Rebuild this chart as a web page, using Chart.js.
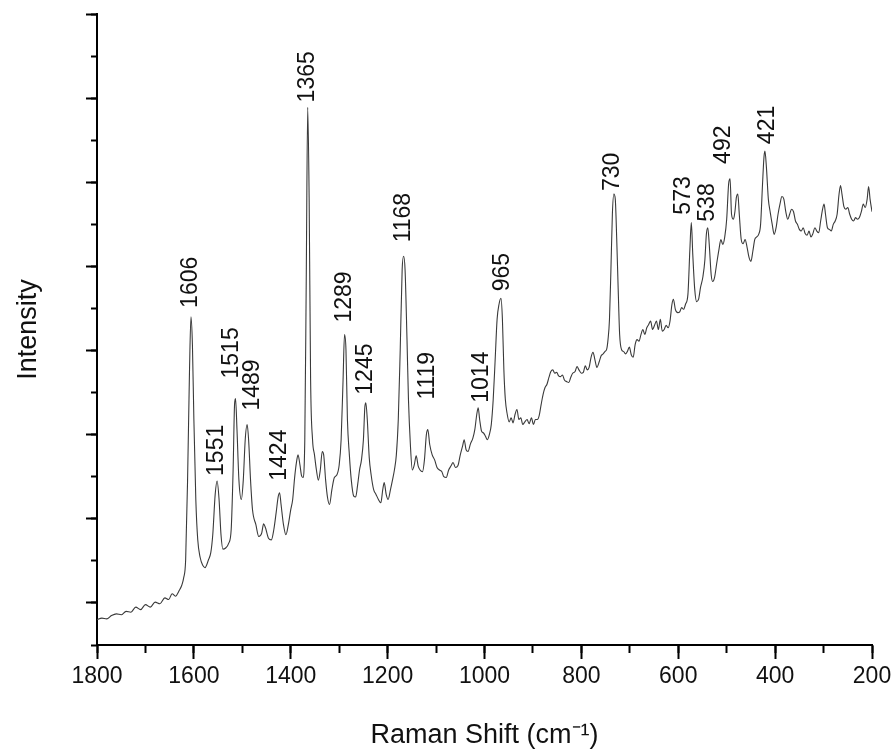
<!DOCTYPE html>
<html>
<head>
<meta charset="utf-8">
<script src="https://cdn.jsdelivr.net/npm/chart.js@4"></script>
<style>
  html, body { margin: 0; padding: 0; background: #fff; }
  #wrap { width: 896px; height: 754px; }
</style>
</head>
<body>
<div id="wrap"><canvas id="chart" width="896" height="754"></canvas></div>
<script>
// Raman shift (cm-1)
const shift = [
  1800, 1790, 1780, 1770, 1760, 1750, 1740, 1730, 1720, 1710, 1700, 1690, 1680, 1670, 1660, 1652, 1645, 1638, 1630, 1625,
  1621, 1617, 1613, 1609, 1606, 1603, 1600, 1596, 1592, 1587, 1582, 1577, 1570, 1565, 1561, 1556, 1552, 1548, 1544, 1540,
  1535, 1528, 1523, 1519, 1516, 1514, 1511, 1507, 1502, 1498, 1494, 1490, 1487, 1483, 1479, 1472, 1466, 1460, 1456, 1452,
  1446, 1440, 1435, 1430, 1426, 1423, 1420, 1415, 1410, 1405, 1400, 1396, 1392, 1388, 1385, 1381, 1378, 1375, 1371, 1368,
  1365, 1362, 1359, 1355, 1351, 1347, 1343, 1339, 1335, 1332, 1328, 1324, 1320, 1315, 1310, 1305, 1300, 1296, 1292, 1289,
  1286, 1283, 1279, 1275, 1270, 1266, 1262, 1258, 1254, 1250, 1247, 1245, 1242, 1238, 1234, 1229, 1224, 1219, 1214, 1210,
  1207, 1203, 1199, 1194, 1190, 1186, 1182, 1178, 1174, 1170, 1167, 1164, 1160, 1157, 1153, 1149, 1145, 1141, 1137, 1133,
  1128, 1124, 1120, 1117, 1113, 1108, 1103, 1098, 1093, 1088, 1084, 1079, 1074, 1069, 1065, 1060, 1055, 1050, 1045, 1042,
  1038, 1034, 1029, 1024, 1020, 1016, 1013, 1010, 1006, 1002, 998, 994, 990, 986, 982, 978, 974, 970, 966, 963,
  960, 957, 953, 949, 945, 941, 937, 933, 929, 925, 921, 917, 912, 908, 903, 899, 895, 891, 887, 883,
  879, 875, 871, 867, 863, 859, 855, 851, 847, 843, 839, 835, 830, 826, 822, 818, 813, 809, 805, 800,
  796, 792, 788, 784, 780, 776, 772, 768, 763, 759, 755, 751, 748, 745, 742, 739, 736, 733, 730, 727,
  724, 721, 717, 713, 709, 705, 701, 697, 693, 689, 685, 681, 677, 673, 669, 665, 661, 657, 653, 649,
  645, 641, 637, 633, 629, 625, 621, 617, 613, 610, 606, 601, 597, 593, 589, 585, 580, 576, 573, 570,
  566, 562, 558, 554, 549, 545, 542, 539, 536, 532, 529, 525, 521, 516, 512, 508, 504, 500, 496, 493,
  490, 486, 483, 480, 477, 474, 470, 466, 462, 458, 454, 450, 446, 442, 438, 434, 430, 426, 423, 421,
  418, 414, 410, 406, 402, 398, 394, 390, 386, 382, 378, 374, 370, 366, 362, 358, 354, 350, 346, 342,
  338, 334, 330, 326, 322, 318, 314, 310, 306, 302, 299, 296, 292, 288, 284, 280, 276, 272, 268, 265,
  262, 258, 254, 250, 246, 242, 238, 234, 230, 226, 222, 218, 214, 210, 207, 204, 200
];

// Intensity (arbitrary units, one unit per long y tick)
const intensity = [
  -0.20, -0.18, -0.19, -0.15, -0.13, -0.14, -0.10, -0.11, -0.05, -0.08, -0.02, -0.05, 0.01, -0.01, 0.06, 0.04, 0.11, 0.08, 0.15, 0.21,
  0.30, 0.51, 1.46, 2.77, 3.40, 3.07, 2.18, 1.23, 0.75, 0.54, 0.45, 0.42, 0.51, 0.60, 0.81, 1.29, 1.45, 1.23, 0.81, 0.64,
  0.65, 0.71, 0.87, 1.58, 2.36, 2.43, 2.06, 1.46, 1.23, 1.46, 1.94, 2.12, 1.94, 1.46, 1.11, 0.93, 0.79, 0.83, 0.94, 0.89,
  0.77, 0.75, 0.87, 1.08, 1.26, 1.31, 1.17, 0.93, 0.81, 0.93, 1.11, 1.23, 1.49, 1.68, 1.76, 1.64, 1.52, 1.49, 1.94, 3.85,
  5.89, 4.80, 2.65, 1.94, 1.76, 1.58, 1.46, 1.58, 1.80, 1.76, 1.46, 1.25, 1.17, 1.35, 1.49, 1.52, 1.64, 1.94, 2.65, 3.19,
  3.01, 2.18, 1.76, 1.46, 1.27, 1.26, 1.40, 1.58, 1.70, 1.94, 2.33, 2.38, 2.18, 1.73, 1.52, 1.35, 1.29, 1.23, 1.19, 1.35,
  1.43, 1.29, 1.23, 1.35, 1.46, 1.58, 1.76, 2.18, 3.01, 3.96, 4.12, 3.96, 3.13, 2.42, 1.88, 1.58, 1.64, 1.75, 1.63, 1.58,
  1.56, 1.70, 2.00, 2.06, 1.88, 1.76, 1.70, 1.61, 1.58, 1.56, 1.50, 1.49, 1.58, 1.63, 1.67, 1.61, 1.63, 1.76, 1.87, 1.94,
  1.82, 1.80, 1.89, 1.96, 2.06, 2.24, 2.32, 2.18, 2.04, 2.02, 1.98, 1.94, 2.00, 2.12, 2.42, 2.89, 3.37, 3.55, 3.62, 3.37,
  2.77, 2.42, 2.24, 2.15, 2.20, 2.14, 2.24, 2.30, 2.18, 2.20, 2.12, 2.15, 2.18, 2.13, 2.20, 2.12, 2.18, 2.18, 2.23, 2.36,
  2.48, 2.56, 2.60, 2.68, 2.75, 2.77, 2.73, 2.74, 2.70, 2.69, 2.71, 2.65, 2.63, 2.62, 2.68, 2.73, 2.75, 2.81, 2.77, 2.73,
  2.74, 2.82, 2.77, 2.80, 2.92, 2.98, 2.89, 2.80, 2.87, 2.94, 2.96, 2.99, 3.01, 3.13, 3.37, 3.96, 4.62, 4.86, 4.80, 4.32,
  3.73, 3.19, 3.01, 2.99, 2.96, 2.99, 3.04, 2.95, 2.92, 3.07, 3.13, 3.11, 3.19, 3.25, 3.19, 3.27, 3.31, 3.35, 3.25, 3.30,
  3.35, 3.25, 3.37, 3.23, 3.25, 3.30, 3.27, 3.35, 3.55, 3.61, 3.49, 3.45, 3.46, 3.51, 3.49, 3.55, 3.67, 4.20, 4.52, 4.14,
  3.73, 3.58, 3.61, 3.75, 3.88, 4.08, 4.38, 4.46, 4.26, 3.90, 3.82, 3.87, 4.02, 4.20, 4.32, 4.26, 4.35, 4.56, 4.98, 5.04,
  4.62, 4.56, 4.65, 4.82, 4.86, 4.62, 4.32, 4.27, 4.32, 4.23, 4.11, 4.06, 4.18, 4.32, 4.35, 4.38, 4.50, 4.98, 5.30, 5.37,
  5.18, 4.80, 4.64, 4.50, 4.38, 4.46, 4.62, 4.74, 4.83, 4.80, 4.65, 4.56, 4.62, 4.68, 4.65, 4.54, 4.50, 4.44, 4.42, 4.46,
  4.39, 4.37, 4.42, 4.35, 4.39, 4.46, 4.42, 4.40, 4.54, 4.68, 4.74, 4.62, 4.46, 4.44, 4.42, 4.50, 4.54, 4.62, 4.86, 4.96,
  4.86, 4.71, 4.68, 4.70, 4.62, 4.56, 4.54, 4.58, 4.56, 4.58, 4.65, 4.74, 4.70, 4.80, 4.95, 4.80, 4.65
];

// labelled bands
const peakLabels = [1606, 1551, 1515, 1489, 1424, 1365, 1289, 1245, 1168, 1119, 1014, 965, 730, 573, 538, 492, 421];

// sideways shift / lift above the peak of each label, in px
const labelNudge = {
  1606: [0, 9], 1551: [0, 5], 1515: [-4, 20], 1489: [5, 14], 1424: [0, 12], 1365: [0, 5],
  1289: [0, 12], 1245: [0, 8], 1168: [0, 14], 1119: [0, 30], 1014: [3, 5], 965: [2, 7],
  730: [-1, 3], 573: [-8, 8], 538: [0, 6], 492: [-6, 15], 421: [3, 7]
};

const FONT = '"Liberation Sans", Arial, sans-serif';

const peakLabelPlugin = {
  id: "peakLabels",
  afterDatasetsDraw(chart) {
    const { ctx, scales } = chart;
    ctx.save();
    ctx.font = "23px " + FONT;
    ctx.fillStyle = "#111";
    ctx.textAlign = "left";
    ctx.textBaseline = "middle";
    peakLabels.forEach(label => {
      let best = -1;
      shift.forEach((s, i) => {
        if (Math.abs(s - label) <= 6 && (best < 0 || intensity[i] > intensity[best])) best = i;
      });
      if (best < 0) return;
      const [dx, lift] = labelNudge[label] || [0, 7];
      const px = scales.x.getPixelForValue(shift[best]) + dx;
      const py = scales.y.getPixelForValue(intensity[best]) - lift;
      ctx.save();
      ctx.translate(px, py);
      ctx.rotate(-Math.PI / 2);
      ctx.fillText(String(label), 0, 0);
      ctx.restore();
    });
    ctx.restore();
  }
};

const tickGrid = len => ({
  display: true,
  drawOnChartArea: false,
  drawTicks: true,
  tickLength: len,
  tickWidth: 2,
  tickColor: "#000"
});

new Chart(document.getElementById("chart"), {
  type: "line",
  data: {
    datasets: [{
      data: shift.map((s, i) => ({ x: s, y: intensity[i] })),
      borderColor: "#3a3a3a",
      borderWidth: 1.1,
      pointRadius: 0,
      cubicInterpolationMode: "monotone",
      fill: false
    }]
  },
  options: {
    responsive: false,
    animation: false,
    layout: { padding: { top: 14, right: 24, left: 0, bottom: 0 } },
    plugins: { legend: { display: false }, tooltip: { enabled: false } },
    scales: {
      x: {
        type: "linear",
        position: "bottom",
        reverse: true,
        min: 200,
        max: 1800,
        weight: 1,
        grid: tickGrid(14),
        border: { display: true, color: "#000", width: 2 },
        ticks: {
          stepSize: 200, padding: 4, color: "#111", maxRotation: 0,
          font: { family: FONT, size: 23 },
          callback: v => String(v)
        },
        title: { display: true, text: "Raman Shift (cm\u207B\u00B9)", color: "#111", font: { family: FONT, size: 27 }, padding: { top: 0, bottom: 2 } },
        afterFit: s => { s.height = 109; }
      },
      x2: {
        type: "linear",
        position: "bottom",
        reverse: true,
        min: 200,
        max: 1800,
        weight: 0,
        grid: tickGrid(8),
        border: { display: false },
        ticks: { stepSize: 100, display: false },
        afterFit: s => { s.height = 0; }
      },
      y: {
        type: "linear",
        position: "left",
        min: -0.5,
        max: 7,
        weight: 1,
        grid: tickGrid(11),
        border: { display: true, color: "#000", width: 2 },
        ticks: { stepSize: 1, display: false, includeBounds: false },
        title: { display: true, text: "Intensity", color: "#111", font: { family: FONT, size: 27 }, padding: { top: 12, bottom: 0 } },
        afterFit: s => { s.width = 97; }
      },
      y2: {
        type: "linear",
        position: "left",
        min: -0.5,
        max: 7,
        weight: 0,
        grid: tickGrid(6),
        border: { display: false },
        ticks: { stepSize: 0.5, display: false },
        afterFit: s => { s.width = 0; }
      }
    }
  },
  plugins: [peakLabelPlugin]
});
</script>
</body>
</html>
